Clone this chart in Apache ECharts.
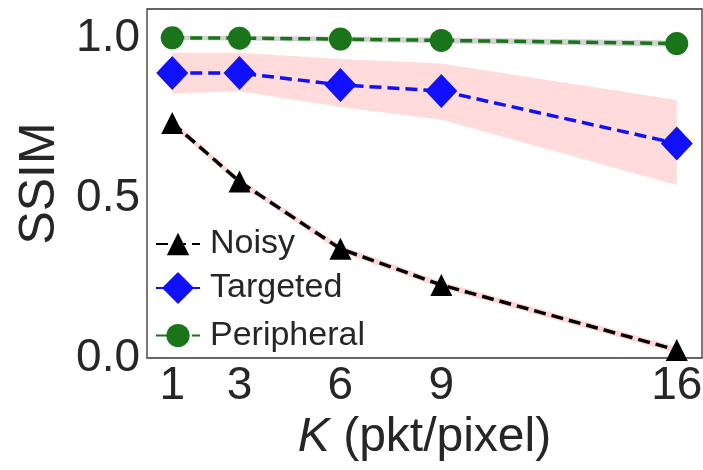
<!DOCTYPE html>
<html>
<head>
<meta charset="utf-8">
<script src="https://cdn.jsdelivr.net/npm/echarts@6/dist/echarts.min.js"></script>
<style>
html,body{margin:0;padding:0;background:#fff;}
#chart{width:703px;height:470px;}
</style>
</head>
<body>
<div id="chart"></div>
<script>
const K = [1, 3, 6, 9, 16];
const xTicks = [1, 3, 6, 9, 16];
const yTicks = [0, 0.5, 1.0];
const noisy = [0.734, 0.551, 0.341, 0.228, 0.025];
const noisyLow = [0.724, 0.541, 0.331, 0.218, 0.015];
const noisyHigh = [0.744, 0.561, 0.351, 0.238, 0.035];
const targeted = [0.89, 0.89, 0.853, 0.834, 0.67];
const targetedLow = [0.825, 0.833, 0.784, 0.744, 0.54];
const targetedHigh = [0.953, 0.953, 0.934, 0.92, 0.806];
const peripheral = [1.0, 0.999, 0.996, 0.992, 0.982];
const peripheralLow = [0.993, 0.992, 0.988, 0.983, 0.972];
const peripheralHigh = [1.007, 1.006, 1.004, 1.001, 0.992];

const TXT = '#262626';
const FONT = '"Liberation Sans", Arial, sans-serif';

function band(name, low, high, color) {
  return {
    type: 'custom', name: name, silent: true, z: 1,
    data: K.map((k, i) => [k, low[i], high[i]]),
    encode: { x: 0, y: [1, 2] },
    renderItem: function (params, api) {
      if (params.dataIndex !== 0) return null;
      const pts = [];
      for (let i = 0; i < K.length; i++) pts.push(api.coord([K[i], high[i]]));
      for (let i = K.length - 1; i >= 0; i--) pts.push(api.coord([K[i], low[i]]));
      return { type: 'polygon', shape: { points: pts }, style: { fill: color, stroke: null } };
    }
  };
}

function lineSeries(name, vals, color, symbol, size, z) {
  return {
    type: 'line', name: name, z: z,
    data: K.map((k, i) => [k, vals[i]]),
    symbol: symbol, symbolSize: size, showSymbol: true,
    lineStyle: { color: color, width: 3.5, type: [12, 6] },
    itemStyle: { color: color, borderWidth: 0 },
    emphasis: { disabled: true }
  };
}

function legend(name, top, h) {
  return {
    data: [name], left: 155, top: top, orient: 'vertical', padding: 0,
    itemWidth: 44, itemHeight: h,
    textStyle: { fontSize: 34, color: TXT, fontFamily: FONT, padding: [0, 0, 0, 5] },
    selectedMode: false
  };
}

const chart = echarts.init(document.getElementById('chart'), null, { renderer: 'canvas' });
chart.setOption({
  animation: false,
  backgroundColor: '#fff',
  textStyle: { fontFamily: FONT },
  grid: { left: 147, top: 9, width: 555, height: 349, show: true, borderColor: '#333', borderWidth: 1.3,
    backgroundColor: 'transparent', outerBoundsMode: 'none', containLabel: false },
  legend: [
    legend('Noisy', 241 - 14, 28),
    legend('Targeted', 287 - 16, 40),
    legend('Peripheral', 333 - 14.5, 29)
  ],
  xAxis: {
    type: 'value', min: 0.25, max: 16.75,
    name: '{i|K} (pkt/pixel)', nameLocation: 'middle', nameGap: 54,
    nameTextStyle: { fontSize: 48, color: TXT, fontFamily: FONT,
      rich: { i: { fontSize: 48, fontStyle: 'italic', color: TXT, fontFamily: FONT } } },
    axisLine: { show: false }, axisTick: { show: false }, splitLine: { show: false },
    axisLabel: { customValues: xTicks, fontSize: 46, color: TXT, fontFamily: FONT, margin: 5 }
  },
  yAxis: {
    type: 'value', min: 0, max: 1.09,
    name: 'SSIM', nameLocation: 'middle', nameGap: 76,
    nameTextStyle: { fontSize: 50, color: TXT, fontFamily: FONT },
    axisLine: { show: false }, axisTick: { show: false }, splitLine: { show: false },
    axisLabel: { customValues: yTicks, fontSize: 46, color: TXT, fontFamily: FONT, margin: 7,
      formatter: v => v.toFixed(1) }
  },
  series: [
    band('noisyBand', noisyLow, noisyHigh, 'rgba(255,0,0,0.16)'),
    band('targetedBand', targetedLow, targetedHigh, 'rgba(255,0,0,0.14)'),
    band('peripheralBand', peripheralLow, peripheralHigh, 'rgba(128,128,128,0.35)'),
    lineSeries('Noisy', noisy, '#000000', 'triangle', 22, 3),
    lineSeries('Targeted', targeted, '#1010ff', 'diamond', [32, 34], 4),
    lineSeries('Peripheral', peripheral, '#1a751a', 'circle', 23, 5)
  ]
});
</script>
</body>
</html>
